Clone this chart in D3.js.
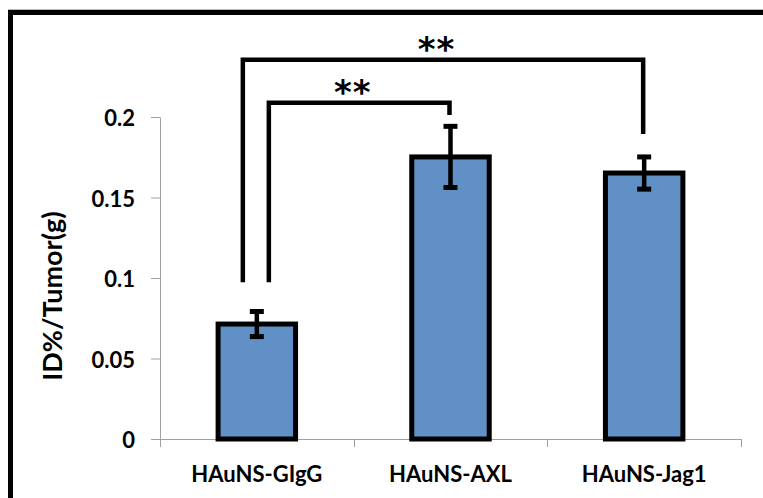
<!DOCTYPE html>
<html>
<head>
<meta charset="utf-8">
<script src="https://cdn.jsdelivr.net/npm/d3@7"></script>
<style>
  body { margin: 0; background: #fff; }
  text { font-family: Lato, "Open Sans", sans-serif; font-weight: bold; fill: #000; }
</style>
</head>
<body>
<div id="canvas"></div>
<script>
// data
var categories = ['HAuNS-GIgG', 'HAuNS-AXL', 'HAuNS-Jag1'];
var means = [0.0714, 0.1752, 0.1652];
var errors = [0.0078, 0.0190, 0.0100];
var yTicks = [0, 0.05, 0.1, 0.15, 0.2];
var yTickLabels = ['0', '0.05', '0.1', '0.15', '0.2'];
// significance brackets: from / to category, height of the bar, leg ends, label
var sigFrom = [0, 0];
var sigTo = [2, 1];
var sigLevel = [0.2356, 0.2089];
var sigLegFrom = [0.0973, 0.0973];
var sigLegTo = [0.1894, 0.2012];
var sigLabel = ['**', '**'];

var W = 763, H = 498;
var m = {t:117, r:22, b:59, l:160};
var w = W - m.l - m.r,
    h = H - m.t - m.b;

var svg = d3.select('#canvas')
    .append('svg')
    .attr('width', W)
    .attr('height', H);

// outer frame (only top and left visible)
svg.append('line')
    .attr('x1', 8).attr('x2', W).attr('y1', 9.5).attr('y2', 9.5)
    .attr('stroke', '#bbb').attr('stroke-width', 1);
svg.append('rect')
    .attr('x', 10.5).attr('y', 12.5)
    .attr('width', W + 20).attr('height', H + 20)
    .attr('fill', 'none')
    .attr('stroke', '#000')
    .attr('stroke-width', 5);

var plot = svg.append('g')
    .attr('transform', 'translate(' + m.l + ',' + m.t + ')');

var x = d3.scaleBand()
    .domain(categories)
    .range([0, w])
    .paddingInner(0.6)
    .paddingOuter(0.3);

var y = d3.scaleLinear()
    .domain([0, 0.2])
    .range([h, 0]);

// y axis
var axisY = d3.axisLeft(y)
    .tickValues(yTicks)
    .tickFormat(function(d, i){ return yTickLabels[i]; })
    .tickSizeInner(9)
    .tickSizeOuter(0)
    .tickPadding(16);
var gy = plot.append('g').attr('class', 'axis').call(axisY);
gy.selectAll('path, line').attr('stroke', '#a0a0a0');
gy.selectAll('text')
    .style('font-size', '22px')
    .attr('dy', '0.4em');

// x axis: domain line plus ticks on the category boundaries
plot.append('line')
    .attr('x1', 0).attr('x2', w)
    .attr('y1', h + 0.5).attr('y2', h + 0.5)
    .attr('stroke', '#a0a0a0');
var bounds = categories.map(function(d){ return x(d) - x.step() * x.paddingInner() / 2; });
bounds.push(w);
plot.selectAll('.xtick')
    .data(bounds)
    .enter()
    .append('line')
    .attr('class', 'xtick')
    .attr('x1', function(d){ return Math.round(d) + 0.5; })
    .attr('x2', function(d){ return Math.round(d) + 0.5; })
    .attr('y1', h)
    .attr('y2', h + 8)
    .attr('stroke', '#a0a0a0');

plot.selectAll('.xlabel')
    .data(categories)
    .enter()
    .append('text')
    .attr('class', 'xlabel')
    .attr('x', function(d){ return x(d) + x.bandwidth() / 2; })
    .attr('y', h + 43)
    .attr('text-anchor', 'middle')
    .style('font-size', '22px')
    .text(function(d){ return d; });

// bars
plot.selectAll('.bar')
    .data(means)
    .enter()
    .append('rect')
    .attr('class', 'bar')
    .attr('x', function(d, i){ return x(categories[i]); })
    .attr('y', function(d){ return y(d); })
    .attr('width', x.bandwidth())
    .attr('height', function(d){ return h - y(d); })
    .attr('fill', '#6190c6')
    .attr('stroke', '#000')
    .attr('stroke-width', 5);

// error bars
var eb = plot.selectAll('.err')
    .data(means)
    .enter()
    .append('g')
    .attr('class', 'err')
    .attr('transform', function(d, i){ return 'translate(' + (x(categories[i]) + x.bandwidth() / 2) + ',0)'; });
eb.append('line')
    .attr('y1', function(d, i){ return y(d + errors[i]); })
    .attr('y2', function(d, i){ return y(d - errors[i]); })
    .attr('stroke', '#000').attr('stroke-width', 4.5);
eb.append('line')
    .attr('x1', -7).attr('x2', 7)
    .attr('y1', function(d, i){ return y(d + errors[i]); })
    .attr('y2', function(d, i){ return y(d + errors[i]); })
    .attr('stroke', '#000').attr('stroke-width', 5);
eb.append('line')
    .attr('x1', -7).attr('x2', 7)
    .attr('y1', function(d, i){ return y(d - errors[i]); })
    .attr('y2', function(d, i){ return y(d - errors[i]); })
    .attr('stroke', '#000').attr('stroke-width', 5);

// significance brackets
var legShift = [-14, 12];
var sig = plot.selectAll('.sig')
    .data(sigLevel)
    .enter()
    .append('g')
    .attr('class', 'sig');
sig.append('path')
    .attr('d', function(d, i){
        var x0 = x(categories[sigFrom[i]]) + x.bandwidth() / 2 + legShift[i];
        var x1 = x(categories[sigTo[i]]) + x.bandwidth() / 2 - 1;
        return 'M' + x0 + ',' + y(sigLegFrom[i]) +
               'V' + y(d) + 'H' + x1 + 'V' + y(sigLegTo[i]);
    })
    .attr('fill', 'none')
    .attr('stroke', '#000')
    .attr('stroke-width', 4.5)
    .attr('stroke-linejoin', 'miter');
sig.append('text')
    .attr('x', function(d, i){
        var x0 = x(categories[sigFrom[i]]) + x.bandwidth() / 2 + legShift[i];
        var x1 = x(categories[sigTo[i]]) + x.bandwidth() / 2;
        return (x0 + x1) / 2 - 7;
    })
    .attr('y', function(d){ return y(d) + 1; })
    .attr('text-anchor', 'middle')
    .style('font-family', '"DejaVu Sans", sans-serif')
    .style('font-size', '34px')
    .style('letter-spacing', '1px')
    .text(function(d, i){ return sigLabel[i]; });

// y axis title
svg.append('text')
    .attr('transform', 'translate(62,296) rotate(-90)')
    .attr('text-anchor', 'middle')
    .style('font-size', '27px')
    .text('ID%/Tumor(g)');
</script>
</body>
</html>
